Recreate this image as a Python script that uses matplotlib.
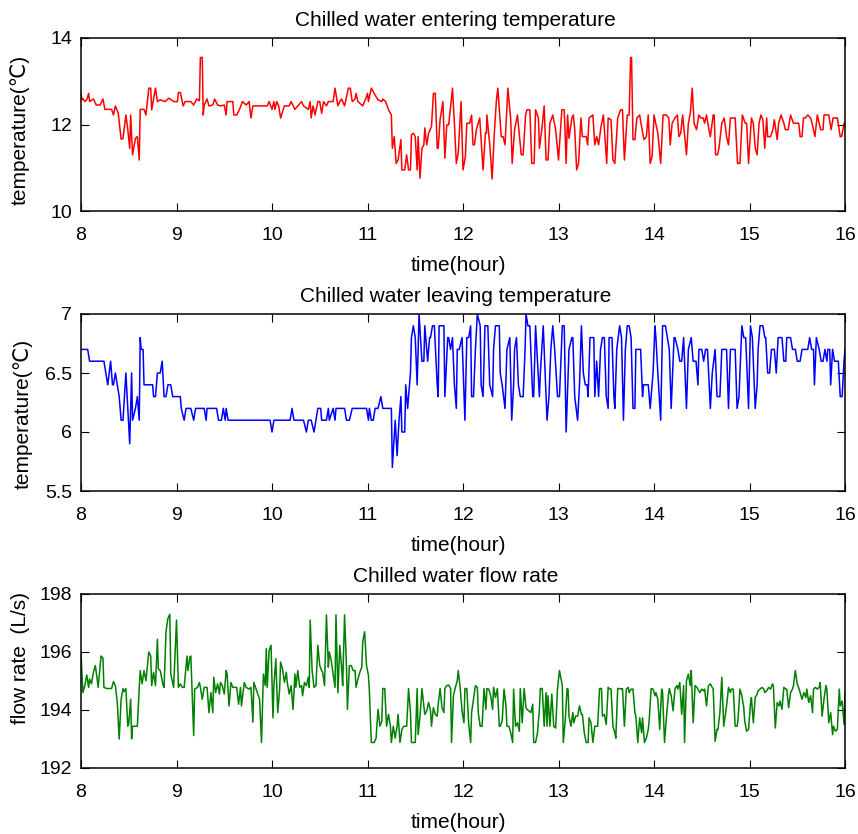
import matplotlib
matplotlib.use("Agg")
import matplotlib.pyplot as plt
from matplotlib.ticker import FuncFormatter

plt.rcParams['font.family'] = ['Liberation Sans', 'DejaVu Sans']

# ---------------- data ----------------
xticks = [8, 9, 10, 11, 12, 13, 14, 15, 16]

ent_time = [8.00, 8.01, 8.02, 8.04, 8.06, 8.08, 8.09, 8.13, 8.16, 8.20, 8.23, 8.25, 8.32, 8.34, 8.36, 8.39,
            8.42, 8.44, 8.47, 8.49, 8.51, 8.52, 8.54, 8.57, 8.59, 8.61, 8.62, 8.66, 8.68, 8.71, 8.73, 8.74,
            8.78, 8.80, 8.83, 8.88, 8.92, 8.97, 9.01, 9.02, 9.04, 9.07, 9.09, 9.15, 9.18, 9.21, 9.24, 9.25,
            9.27, 9.28, 9.29, 9.32, 9.34, 9.38, 9.40, 9.43, 9.46, 9.50, 9.52, 9.53, 9.59, 9.60, 9.63, 9.66,
            9.69, 9.73, 9.76, 9.78, 9.80, 9.95, 9.97, 10.00, 10.02, 10.03, 10.05, 10.07, 10.09, 10.13, 10.18,
            10.20, 10.24, 10.27, 10.31, 10.33, 10.38, 10.40, 10.41, 10.43, 10.45, 10.48, 10.50, 10.52, 10.54,
            10.57, 10.59, 10.64, 10.66, 10.69, 10.71, 10.73, 10.74, 10.76, 10.80, 10.82, 10.84, 10.87, 10.88,
            10.90, 10.95, 10.98, 11.00, 11.01, 11.04, 11.08, 11.11, 11.15, 11.16, 11.19, 11.22, 11.25, 11.26,
            11.28, 11.30, 11.32, 11.35, 11.36, 11.39, 11.41, 11.43, 11.45, 11.46, 11.48, 11.50, 11.52, 11.53,
            11.55, 11.57, 11.59, 11.60, 11.62, 11.64, 11.67, 11.69, 11.71, 11.73, 11.74, 11.76, 11.79, 11.81,
            11.83, 11.85, 11.89, 11.91, 11.93, 11.95, 11.98,
            12.00, 12.025, 12.04, 12.07, 12.09, 12.105, 12.12, 12.14, 12.175, 12.21, 12.235, 12.245, 12.25,
            12.28, 12.305, 12.33, 12.35, 12.365, 12.385, 12.40, 12.42, 12.44, 12.47, 12.50, 12.515, 12.54,
            12.57, 12.585, 12.61, 12.63, 12.655, 12.67, 12.70, 12.72, 12.745, 12.76, 12.79, 12.80, 12.825,
            12.85, 12.87, 12.89, 12.91, 12.94, 12.97, 13.00, 13.035, 13.06, 13.08, 13.095, 13.11, 13.14,
            13.155, 13.17, 13.19, 13.21, 13.235, 13.25, 13.29, 13.305, 13.32, 13.36, 13.38, 13.40, 13.42,
            13.445, 13.47, 13.505, 13.52, 13.55, 13.57, 13.59, 13.62, 13.65, 13.67, 13.69, 13.72, 13.74,
            13.755, 13.765, 13.78, 13.80, 13.82, 13.85, 13.875, 13.895, 13.92, 13.94, 13.96, 13.98, 14.00,
            14.04, 14.07, 14.095, 14.13, 14.155, 14.17, 14.19, 14.22, 14.245, 14.26, 14.28, 14.30, 14.34,
            14.36, 14.38, 14.40, 14.42, 14.445, 14.47, 14.49, 14.515, 14.53, 14.55, 14.575, 14.59, 14.62,
            14.63, 14.645, 14.665, 14.68, 14.71, 14.735, 14.76, 14.78, 14.80, 14.85, 14.875, 14.90, 14.925,
            14.955, 14.97, 14.99, 15.02, 15.04, 15.06, 15.08, 15.10, 15.12, 15.14, 15.16, 15.18, 15.19,
            15.22, 15.245, 15.26, 15.29, 15.305, 15.33, 15.36, 15.375, 15.405, 15.43, 15.46, 15.515, 15.53,
            15.55, 15.565, 15.585, 15.61, 15.64, 15.655, 15.685, 15.71, 15.745, 15.77, 15.78, 15.83, 15.855,
            15.875, 15.92, 15.95, 15.965, 15.99, 16.00]
ent_temp = [12.72, 12.57, 12.60, 12.53, 12.57, 12.72, 12.53, 12.59, 12.45, 12.45, 12.59, 12.35, 12.35, 12.22,
            12.43, 12.26, 11.66, 11.68, 12.22, 11.88, 11.45, 12.22, 11.30, 11.68, 11.72, 11.18, 12.35, 12.35,
            12.22, 12.84, 12.84, 12.34, 12.84, 12.53, 12.57, 12.53, 12.61, 12.53, 12.53, 12.74, 12.74, 12.43,
            12.53, 12.53, 12.45, 12.59, 12.55, 13.55, 13.55, 12.22, 12.45, 12.59, 12.43, 12.45, 12.59, 12.45,
            12.43, 12.45, 12.22, 12.53, 12.53, 12.22, 12.22, 12.35, 12.53, 12.45, 12.53, 12.15, 12.43, 12.43,
            12.53, 12.35, 12.53, 12.35, 12.53, 12.43, 12.15, 12.43, 12.43, 12.53, 12.35, 12.43, 12.53, 12.43,
            12.35, 12.53, 12.15, 12.43, 12.22, 12.53, 12.53, 12.26, 12.53, 12.43, 12.53, 12.53, 12.84, 12.43,
            12.53, 12.59, 12.53, 12.43, 12.84, 12.84, 12.53, 12.59, 12.72, 12.53, 12.43, 12.59, 12.72, 12.53,
            12.84, 12.68, 12.57, 12.53, 12.59, 12.53, 12.34, 12.22, 11.45, 11.72, 11.10, 11.18, 11.65, 10.95,
            10.95, 11.30, 10.95, 10.95, 11.76, 11.80, 11.72, 10.95, 11.72, 10.76, 11.45, 11.53, 11.92, 11.53,
            11.80, 11.95, 12.72, 12.72, 11.45, 11.45, 12.11, 12.53, 11.22, 11.99, 11.99, 12.84, 12.03, 11.10,
            11.34, 12.53,
            10.95, 11.26, 12.03, 12.03, 12.22, 11.53, 11.53, 11.88, 12.15, 10.95, 11.80, 11.80, 12.22, 11.53,
            10.74, 11.88, 12.57, 12.84, 12.18, 11.72, 11.72, 11.53, 12.84, 12.11, 11.10, 11.88, 12.22, 11.88,
            11.30, 11.30, 12.22, 12.34, 12.34, 11.10, 11.10, 12.34, 12.15, 11.45, 11.88, 12.43, 11.18, 11.18,
            12.03, 12.22, 11.88, 11.18, 12.34, 12.34, 11.10, 12.22, 11.68, 12.15, 12.22, 11.88, 10.95, 11.10,
            12.15, 11.72, 11.72, 11.53, 12.15, 12.22, 11.53, 11.72, 11.53, 11.95, 12.22, 11.10, 12.15, 12.11,
            11.18, 11.10, 12.15, 12.34, 12.34, 11.18, 12.22, 12.22, 13.55, 13.55, 11.65, 11.65, 12.15, 12.22,
            11.88, 11.65, 11.72, 12.22, 11.10, 11.26, 12.22, 11.80, 11.10, 12.22, 12.22, 12.15, 11.53, 12.03,
            12.15, 12.22, 11.72, 11.80, 12.22, 11.30, 12.03, 12.26, 12.84, 12.03, 11.88, 12.22, 12.15, 12.15,
            12.03, 12.22, 11.88, 11.72, 12.22, 12.22, 11.30, 11.30, 11.45, 12.03, 12.15, 11.72, 11.53, 12.15,
            12.15, 11.10, 11.10, 12.22, 12.03, 12.03, 11.10, 12.15, 12.03, 11.45, 11.30, 12.03, 12.22, 12.11,
            11.45, 12.15, 11.72, 11.72, 11.88, 12.11, 11.65, 12.03, 12.22, 12.03, 11.88, 11.88, 12.22, 12.03,
            12.03, 11.72, 11.72, 12.15, 12.15, 12.22, 12.15, 12.03, 11.72, 12.22, 11.88, 11.88, 12.22, 12.22,
            11.88, 12.15, 12.15, 11.72, 11.72, 12.03, 11.95]

lev_time = [8.00, 8.07, 8.09, 8.24, 8.28, 8.31, 8.33, 8.34, 8.36, 8.38, 8.40, 8.42, 8.44, 8.47, 8.49, 8.51,
            8.53, 8.54, 8.57, 8.59, 8.61, 8.62, 8.63, 8.65, 8.66, 8.75, 8.76, 8.78, 8.80, 8.83, 8.85, 8.87,
            8.89, 8.91, 8.94, 8.96, 9.04, 9.05, 9.08, 9.10, 9.15, 9.18, 9.20, 9.29, 9.31, 9.32, 9.42, 9.44,
            9.47, 9.49, 9.51, 9.52, 9.54, 9.98, 10.00, 10.02, 10.19, 10.21, 10.23, 10.33, 10.36, 10.38, 10.41,
            10.44, 10.48, 10.51, 10.52, 10.57, 10.59, 10.60, 10.64, 10.66, 10.67, 10.76, 10.78, 10.81, 10.84,
            10.99, 11.01, 11.02, 11.04, 11.06, 11.08, 11.11, 11.14, 11.16, 11.25, 11.26, 11.29, 11.31, 11.33,
            11.35, 11.36, 11.39, 11.40, 11.42, 11.45, 11.46, 11.48, 11.50, 11.52, 11.54, 11.57, 11.59, 11.60,
            11.63, 11.65, 11.66, 11.68, 11.70, 11.73, 11.74, 11.75, 11.80, 11.81, 11.84, 11.85, 11.87, 11.89,
            11.91, 11.93, 11.94, 11.96, 11.99, 12.02,
            12.04, 12.06, 12.08, 12.09, 12.11, 12.13, 12.15, 12.18, 12.19, 12.21, 12.23, 12.26, 12.28, 12.31,
            12.32, 12.34, 12.38, 12.39, 12.41, 12.44, 12.46, 12.49, 12.51, 12.53, 12.54, 12.56, 12.58, 12.60,
            12.63, 12.65, 12.66, 12.68, 12.70, 12.73, 12.74, 12.76, 12.80, 12.81, 12.84, 12.88, 12.90, 12.92,
            12.94, 12.96, 12.99, 13.01, 13.04, 13.06, 13.08, 13.11, 13.14, 13.15, 13.17, 13.20, 13.22, 13.24,
            13.26, 13.28, 13.30, 13.31, 13.33, 13.37, 13.38, 13.40, 13.42, 13.44, 13.46, 13.48, 13.50, 13.52,
            13.53, 13.56, 13.58, 13.59, 13.61, 13.64, 13.66, 13.68, 13.70, 13.72, 13.74, 13.76, 13.78, 13.80,
            13.81, 13.86, 13.88, 13.89, 13.94, 13.96, 13.99, 14.01, 14.02, 14.04, 14.07, 14.09, 14.12, 14.14,
            14.16, 14.18, 14.21, 14.22, 14.25, 14.27, 14.29, 14.31, 14.32, 14.34, 14.36, 14.39, 14.41, 14.44,
            14.46, 14.47, 14.50, 14.52, 14.54, 14.56, 14.59, 14.61, 14.64, 14.66, 14.69, 14.71, 14.76, 14.78,
            14.80, 14.85, 14.87, 14.89, 14.92, 14.94, 14.96, 14.99, 15.01, 15.03, 15.06, 15.08, 15.09, 15.11,
            15.14, 15.16, 15.17, 15.19, 15.21, 15.23, 15.26, 15.28, 15.30, 15.34, 15.36, 15.38, 15.39, 15.43,
            15.45, 15.48, 15.50, 15.53, 15.55, 15.61, 15.63, 15.65, 15.67, 15.68, 15.70, 15.73, 15.75, 15.77,
            15.79, 15.81, 15.82, 15.84, 15.85, 15.87, 15.89, 15.93, 15.95, 15.97, 15.99, 16.00]
lev_temp = [6.7, 6.7, 6.6, 6.6, 6.4, 6.6, 6.4, 6.4, 6.5, 6.4, 6.3, 6.1, 6.1, 6.5, 6.2, 5.9,
            6.5, 6.1, 6.2, 6.3, 6.1, 6.8, 6.7, 6.7, 6.4, 6.4, 6.3, 6.3, 6.5, 6.5, 6.6, 6.3,
            6.3, 6.4, 6.4, 6.3, 6.3, 6.2, 6.1, 6.2, 6.2, 6.1, 6.2, 6.2, 6.1, 6.2, 6.2, 6.1,
            6.1, 6.2, 6.1, 6.2, 6.1, 6.1, 6.0, 6.1, 6.1, 6.2, 6.1, 6.1, 6.0, 6.1, 6.1,
            6.0, 6.2, 6.2, 6.1, 6.1, 6.2, 6.1, 6.2, 6.1, 6.2, 6.2, 6.1, 6.1, 6.2,
            6.2, 6.1, 6.2, 6.1, 6.1, 6.2, 6.2, 6.3, 6.2, 6.2, 5.7, 6.1, 5.8, 6.1,
            6.3, 6.0, 6.0, 6.4, 6.2, 6.5, 6.8, 6.9, 6.8, 6.4, 7.0, 6.6, 6.6, 6.9,
            6.6, 6.8, 6.8, 6.9, 6.9, 6.4, 6.3, 6.9, 6.9, 6.3, 6.8, 6.8, 6.7, 6.8,
            6.4, 6.2, 6.7, 6.7, 6.8, 6.1,
            6.8, 6.8, 6.9, 6.3, 6.3, 6.7, 7.0, 6.9, 6.4, 6.3, 6.9, 6.9, 6.4, 6.3,
            6.7, 6.9, 6.9, 6.5, 6.4, 6.2, 6.7, 6.8, 6.1, 6.4, 6.7, 6.8, 6.4, 6.3,
            6.3, 6.7, 7.0, 6.9, 6.9, 6.3, 6.3, 6.9, 6.3, 6.5, 6.9, 6.1, 6.3, 6.7,
            6.9, 6.7, 6.3, 6.3, 6.9, 6.9, 6.0, 6.7, 6.8, 6.8, 6.3, 6.1, 6.4, 6.9,
            6.5, 6.4, 6.4, 6.3, 6.8, 6.8, 6.3, 6.6, 6.3, 6.7, 6.8, 6.8, 6.3, 6.2,
            6.8, 6.8, 6.3, 6.2, 6.7, 6.9, 6.8, 6.1, 6.7, 6.9, 6.9, 6.8, 6.2, 6.2,
            6.7, 6.7, 6.3, 6.4, 6.4, 6.2, 6.5, 6.9, 6.8, 6.5, 6.1, 6.9, 6.9, 6.8,
            6.7, 6.2, 6.8, 6.8, 6.7, 6.6, 6.6, 6.8, 6.6, 6.2, 6.7, 6.8, 6.6, 6.6,
            6.4, 6.7, 6.7, 6.6, 6.7, 6.7, 6.2, 6.5, 6.7, 6.3, 6.3, 6.7, 6.7, 6.2,
            6.7, 6.7, 6.2, 6.3, 6.9, 6.8, 6.8, 6.2, 6.9, 6.8, 6.2, 6.4, 6.7, 6.9,
            6.9, 6.8, 6.8, 6.5, 6.5, 6.7, 6.7, 6.5, 6.8, 6.8, 6.6, 6.6, 6.8, 6.8,
            6.7, 6.7, 6.6, 6.6, 6.7, 6.7, 6.8, 6.7, 6.7, 6.4, 6.8, 6.7, 6.6, 6.6,
            6.7, 6.6, 6.7, 6.7, 6.4, 6.7, 6.6, 6.6, 6.3, 6.3, 6.6, 6.7]

flow_time = [8.00, 8.01, 8.02, 8.04, 8.06, 8.08, 8.09, 8.11, 8.13, 8.15, 8.16, 8.18, 8.21, 8.23, 8.24, 8.27,
             8.32, 8.34, 8.36, 8.38, 8.40, 8.42, 8.44, 8.45, 8.47, 8.49, 8.50, 8.52, 8.53, 8.54, 8.57, 8.59,
             8.61, 8.62, 8.64, 8.66, 8.68, 8.71, 8.73, 8.74, 8.76, 8.78, 8.80, 8.81, 8.83, 8.86, 8.87, 8.89,
             8.91, 8.93, 8.94, 8.97, 9.00, 9.01, 9.02, 9.04, 9.06, 9.08, 9.11, 9.12, 9.14, 9.15, 9.18, 9.19,
             9.22, 9.24, 9.25, 9.27, 9.29, 9.32, 9.34, 9.36, 9.38, 9.39, 9.41, 9.43, 9.45, 9.46, 9.48, 9.50,
             9.52, 9.53, 9.55, 9.57, 9.59, 9.63, 9.65, 9.67, 9.68, 9.71, 9.73, 9.76, 9.78, 9.80, 9.81, 9.84,
             9.87, 9.89, 9.91, 9.93, 9.94, 9.95, 9.97, 9.99, 10.01, 10.02, 10.04, 10.06, 10.08, 10.09, 10.11,
             10.13, 10.15, 10.16, 10.18, 10.20, 10.22, 10.24, 10.25, 10.27, 10.29, 10.31, 10.32, 10.34, 10.36,
             10.38, 10.39, 10.40, 10.42, 10.44, 10.46, 10.48, 10.50, 10.52, 10.53, 10.55, 10.57, 10.59, 10.60,
             10.62, 10.64, 10.66, 10.67, 10.69, 10.71, 10.73, 10.74, 10.76, 10.78, 10.79, 10.81, 10.83, 10.85,
             10.87, 10.88, 10.90, 10.92, 10.94, 10.95, 10.97, 10.99, 11.01, 11.02, 11.04, 11.07, 11.09, 11.11,
             11.13, 11.15, 11.16, 11.18, 11.20, 11.22, 11.24, 11.25, 11.27, 11.29, 11.31, 11.32, 11.34, 11.36,
             11.38, 11.41, 11.43, 11.45, 11.46, 11.50, 11.52, 11.53, 11.55, 11.57, 11.60, 11.62, 11.64, 11.66,
             11.67, 11.69, 11.71, 11.73, 11.74, 11.76, 11.78, 11.80, 11.81, 11.83, 11.85, 11.87, 11.88, 11.90,
             11.92, 11.94, 11.95, 11.97, 11.99, 12.01, 12.02, 12.04,
             12.06, 12.08, 12.09, 12.11, 12.13, 12.15, 12.16, 12.18, 12.20, 12.22, 12.24, 12.25, 12.27, 12.29,
             12.31, 12.32, 12.34, 12.36, 12.38, 12.39, 12.41, 12.43, 12.45, 12.46, 12.48, 12.50, 12.52, 12.53,
             12.55, 12.57, 12.59, 12.60, 12.62, 12.64, 12.66, 12.67, 12.69, 12.71, 12.73, 12.74, 12.76, 12.78,
             12.80, 12.81, 12.83, 12.85, 12.87, 12.88, 12.89, 12.91, 12.93, 12.95, 12.97, 12.99, 13.01, 13.02,
             13.04, 13.05, 13.07, 13.09, 13.10, 13.11, 13.13, 13.15, 13.16, 13.18, 13.20, 13.22, 13.24, 13.25,
             13.27, 13.29, 13.31, 13.32, 13.34, 13.36, 13.38, 13.39, 13.41, 13.43, 13.45, 13.46, 13.48, 13.50,
             13.52, 13.53, 13.55, 13.57, 13.59, 13.60, 13.62, 13.64, 13.66, 13.67, 13.69, 13.71, 13.73, 13.74,
             13.76, 13.78, 13.80, 13.81, 13.83, 13.85, 13.87, 13.88, 13.90, 13.92, 13.94, 13.95, 13.97, 13.99,
             14.01, 14.02, 14.04, 14.06, 14.08, 14.09, 14.11, 14.13, 14.15, 14.16, 14.18, 14.20, 14.22, 14.24,
             14.25, 14.27, 14.29, 14.31, 14.32, 14.34, 14.36, 14.38, 14.39, 14.41, 14.43, 14.45, 14.46, 14.48,
             14.50, 14.52, 14.53, 14.55, 14.57, 14.59, 14.60, 14.62, 14.64, 14.66, 14.67, 14.69, 14.71, 14.73,
             14.74, 14.76, 14.78, 14.80, 14.81, 14.83, 14.85, 14.87, 14.88, 14.90, 14.92, 14.94, 14.95, 14.97,
             14.99, 15.01, 15.02, 15.04, 15.06, 15.08, 15.09, 15.11, 15.13, 15.15, 15.16, 15.18, 15.20, 15.22,
             15.24, 15.25, 15.27, 15.29, 15.31, 15.32, 15.34, 15.36, 15.38, 15.39, 15.41, 15.43, 15.45, 15.46,
             15.48, 15.50, 15.52, 15.53, 15.55, 15.57, 15.59, 15.60, 15.62, 15.64, 15.66, 15.67, 15.69, 15.71,
             15.73, 15.74, 15.76, 15.78, 15.80, 15.81, 15.83, 15.85, 15.87, 15.88, 15.90, 15.92, 15.94, 15.95,
             15.97, 15.99, 16.00]
flow_rate = [196.0, 195.24, 194.6, 194.84, 195.21, 194.78, 195.07, 194.9, 195.3, 195.53, 195.3, 194.78, 195.86,
             195.79, 194.78, 194.74, 194.74, 194.98, 194.84, 194.26, 193.0, 194.37, 194.74, 194.63, 194.74,
             193.44, 193.53, 194.37, 193.0, 193.44, 193.44, 193.44, 194.78, 195.36, 194.9, 195.36, 195.01,
             196.0, 195.86, 194.84, 195.3, 194.84, 196.44, 195.42, 195.36, 194.84, 194.78, 196.7, 197.16,
             197.3, 195.24, 194.78, 197.1, 195.88, 194.78, 194.9, 194.78, 194.78, 195.86, 195.36, 195.83,
             195.86, 193.12, 194.72, 194.78, 194.95, 194.78, 194.37, 194.78, 194.78, 193.91, 194.6, 193.91,
             195.13, 194.6, 194.9, 194.55, 194.95, 194.84, 194.55, 195.36, 195.24, 194.14, 194.95, 194.78,
             194.78, 194.2, 194.78, 194.14, 194.95, 194.78, 194.72, 194.78, 193.58, 194.95, 194.66, 194.37,
             192.88, 195.24, 194.84, 196.12, 194.78, 196.06, 196.23, 193.73, 194.84, 195.77, 193.91, 194.72,
             195.65, 195.42, 194.95, 195.3, 194.95, 194.55, 194.84, 194.02, 195.24, 194.78, 195.36, 194.78,
             194.84, 194.49, 194.95, 194.84, 195.13, 194.78, 197.1, 195.36, 194.78, 194.84, 196.23, 195.53,
             195.36, 195.3, 194.84, 197.28, 195.48, 196.0, 195.71, 195.24, 194.78, 197.28, 194.6, 196.23,
             195.42, 194.84, 197.28, 195.48, 194.02, 195.53, 195.53, 195.36, 195.36, 194.78, 195.07, 195.3,
             195.48, 196.35, 196.7, 195.53, 195.19, 194.63, 192.88, 192.88, 193.03, 194.02, 193.44, 193.62,
             194.74, 194.74, 193.44, 193.85, 193.44, 192.88, 193.44, 193.03, 193.44, 193.85, 192.88, 193.33,
             193.44, 193.44, 194.74, 193.91, 192.88, 192.88, 194.74, 193.15, 193.79, 194.74, 193.85, 193.97,
             194.26, 193.97, 193.44, 194.08, 193.85, 193.79, 194.2, 194.74, 194.08, 193.91, 194.74, 194.84,
             194.86, 194.74, 192.88, 194.49, 194.78, 195.01, 195.36, 194.78, 193.97, 193.56, 194.74, 194.74,
             193.5, 192.88, 193.91, 194.37, 194.84, 194.78, 193.91, 193.44, 193.44, 194.74, 194.02, 194.74,
             194.72, 194.49, 194.02, 194.78, 194.43, 194.74, 193.44, 193.44, 193.62, 194.72, 194.14, 193.44,
             193.44, 193.21, 192.88, 194.72, 193.44, 193.56, 193.27, 194.74, 193.56, 194.74, 194.08, 194.02,
             193.97, 193.91, 194.2, 192.88, 192.88, 193.21, 194.02, 194.74, 194.74, 193.44, 194.6, 193.44,
             194.49, 193.44, 194.55, 193.44, 193.38, 194.74, 195.36, 195.19, 194.84, 192.88, 193.62, 194.74,
             194.72, 193.79, 193.44, 193.91, 193.56, 193.79, 193.79, 194.14, 193.85, 193.85, 193.21, 192.88,
             192.88, 193.73, 193.56, 192.88, 193.44, 193.44, 193.44, 194.74, 194.74, 193.79, 193.85, 193.5,
             194.78, 194.74, 194.72, 193.44, 193.21, 193.03, 194.74, 194.74, 194.72, 194.74, 193.44, 194.72,
             194.78, 194.6, 194.72, 194.72, 193.91, 193.79, 192.88, 193.73, 193.21, 193.73, 192.88, 193.03,
             193.33, 193.67, 194.74, 194.72, 194.49, 194.6, 194.37, 193.33, 194.72, 194.6, 192.88, 193.73,
             194.49, 194.74, 194.49, 193.97, 194.74, 194.84, 194.72, 194.95, 193.85, 194.84, 192.88, 195.01,
             195.24, 194.84, 195.36, 193.56, 194.84, 194.78, 194.72, 194.6, 194.72, 194.66, 194.72, 194.14,
             194.84, 194.9, 194.84, 194.72, 192.92, 193.33, 193.33, 193.91, 195.13, 193.44, 193.67, 194.14,
             194.78, 194.6, 194.72, 194.72, 193.44, 193.44, 193.67, 194.72, 194.49, 194.08, 193.62, 193.27,
             193.33, 194.2, 194.43, 193.56, 194.43, 194.55, 194.66, 194.72, 194.78, 194.72, 194.6, 194.66,
             194.78, 194.72, 194.9, 194.84, 193.38, 194.26, 194.14, 194.31, 194.02, 194.78, 194.72, 194.72,
             194.08, 194.6, 194.72, 194.84, 195.36, 194.9, 194.72, 194.6, 194.37, 194.6, 194.43, 194.72,
             194.26, 194.49, 193.91, 194.72, 194.78, 194.72, 194.78, 194.95, 193.79, 194.37, 194.84, 194.72,
             193.56, 193.91, 193.15, 193.44, 193.27, 193.33, 194.72, 194.14, 194.31, 193.5, 194.6]

panels = [
    dict(t=ent_time, v=ent_temp, color='#ff0000', title='Chilled water entering temperature',
         ylabel='temperature(℃)', ylim=(10, 14), yticks=[10, 12, 14], lab=(-0.067, 0.468)),
    dict(t=lev_time, v=lev_temp, color='#0000ff', title='Chilled water leaving temperature',
         ylabel='temperature(℃)', ylim=(5.5, 7), yticks=[5.5, 6, 6.5, 7], lab=(-0.063, 0.435)),
    dict(t=flow_time, v=flow_rate, color='#008000', title='Chilled water flow rate',
         ylabel='flow rate  (L/s)', ylim=(192, 198), yticks=[192, 194, 196, 198], lab=(-0.067, 0.635)),
]

# ---------------- figure ----------------
W, H = 858, 834
fig = plt.figure(figsize=(W / 100, H / 100), dpi=100)
boxes = [(38, 211), (314, 491), (594, 768)]   # top/bottom pixel rows of each axes
left_px, right_px = 81, 845

fs_tick = 14
fs_text = 15
for p, (top, bot) in zip(panels, boxes):
    ax = fig.add_axes([left_px / W, (H - bot) / H, (right_px - left_px) / W, (bot - top) / H])
    ax.plot(p['t'], p['v'], color=p['color'], lw=1.1)
    ax.set_xlim(8, 16)
    ax.set_ylim(*p['ylim'])
    ax.set_xticks(xticks)
    ax.set_yticks(p['yticks'])
    ax.yaxis.set_major_formatter(FuncFormatter(lambda v, pos: f'{v:g}'))
    ax.tick_params(direction='in', length=5.5, width=0.8, top=True, right=True,
                   labelsize=fs_tick, colors='black')
    ax.tick_params(axis='x', pad=11.5)
    ax.tick_params(axis='y', pad=6.5)
    for s in ax.spines.values():
        s.set_linewidth(1.1)
        s.set_color('black')
    ax.set_title(p['title'], fontsize=fs_text, pad=9, x=0.49)
    ax.set_xlabel('time(hour)', fontsize=fs_text, labelpad=9)
    ax.xaxis.label.set_x(0.4935)
    ax.set_ylabel(p['ylabel'], fontsize=fs_text)
    ax.yaxis.set_label_coords(*p['lab'])

fig.savefig('out.png', dpi=100)
